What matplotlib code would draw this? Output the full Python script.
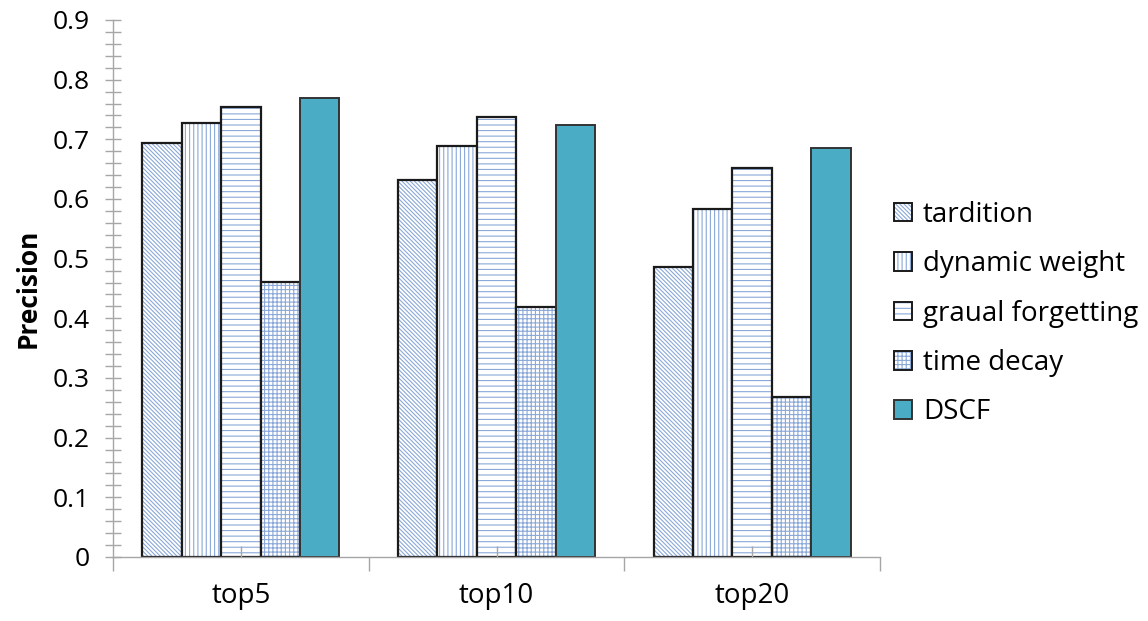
import numpy as np
import matplotlib
matplotlib.use("Agg")
import matplotlib.pyplot as plt
from matplotlib.ticker import MultipleLocator, FixedLocator, FuncFormatter
from matplotlib.legend_handler import HandlerTuple
from matplotlib.patches import Patch

plt.rcParams["font.family"] = ["Open Sans", "DejaVu Sans"]
plt.rcParams["hatch.linewidth"] = 0.8

categories = ["top5", "top10", "top20"]
methods = ["tardition", "dynamic weight", "graual forgetting", "time decay", "DSCF"]
tardition = [0.694, 0.632, 0.486]
dynamic_weight = [0.727, 0.689, 0.584]
graual_forgetting = [0.755, 0.737, 0.652]
time_decay = [0.461, 0.419, 0.268]
dscf = [0.770, 0.724, 0.686]

series = [tardition, dynamic_weight, graual_forgetting, time_decay, dscf]
hatches = ["\\" * 8, "||||", "---", "++++", None]
hatch_color = "#8aa8d8"
solid_color = "#4bacc6"

fig = plt.figure(figsize=(11.48, 6.21), dpi=100)
ax = fig.add_axes([113 / 1148, 1 - 557 / 621, (880 - 113) / 1148, (557 - 20) / 621])

x = np.arange(len(categories))
width = 0.154
handles = []
for i, (vals, hatch) in enumerate(zip(series, hatches)):
    pos = x + (i - 2) * width
    if hatch:
        # hatch layer first, then a plain black outline on top
        ax.bar(pos, vals, width, facecolor="white", edgecolor=hatch_color, hatch=hatch, linewidth=0)
        ax.bar(pos, vals, width, fill=False, edgecolor="#1a1a1a", linewidth=1.6)
        h = (Patch(facecolor="white", edgecolor=hatch_color, hatch=hatch, linewidth=0),
             Patch(fill=False, edgecolor="#1a1a1a", linewidth=1.4))
    else:
        ax.bar(pos, vals, width, color=solid_color, edgecolor="#333333", linewidth=1.4)
        h = Patch(facecolor=solid_color, edgecolor="#333333", linewidth=1.4)
    handles.append(h)

ax.set_xlim(-0.5, 2.5)
ax.set_ylim(0, 0.9)
ax.yaxis.set_major_locator(MultipleLocator(0.1))
ax.yaxis.set_minor_locator(MultipleLocator(0.02))
ax.yaxis.set_major_formatter(FuncFormatter(lambda v, _: "0" if abs(v) < 1e-9 else f"{v:.1f}"))
ax.tick_params(axis="y", which="both", direction="inout", length=12, width=1,
               color="#a6a6a6", labelsize=19, pad=11)

ax.xaxis.set_major_locator(FixedLocator([-0.5, 0.5, 1.5, 2.5]))
ax.xaxis.set_minor_locator(FixedLocator(x))
ax.xaxis.set_minor_formatter(plt.FixedFormatter(categories))
ax.xaxis.set_major_formatter(plt.NullFormatter())
ax.tick_params(axis="x", which="major", direction="out", length=10, width=1, color="#a6a6a6")
ax.tick_params(axis="x", which="minor", direction="in", length=8, width=1, color="#a6a6a6",
               labelsize=20, pad=18)

for side in ("top", "right"):
    ax.spines[side].set_visible(False)
for side in ("left", "bottom"):
    ax.spines[side].set_color("#a6a6a6")
    ax.spines[side].set_linewidth(1)

ax.set_ylabel("Precision", fontsize=19, fontweight="bold", labelpad=8)

fig.legend(handles, methods, loc="upper left", bbox_to_anchor=(880 / 1148, 1 - 187 / 621),
           frameon=False, fontsize=20, handlelength=0.65, handleheight=0.65,
           handletextpad=0.4, labelspacing=0.77, borderpad=0,
           handler_map={tuple: HandlerTuple(ndivide=1, pad=0)})

fig.savefig("out.png", dpi=100)
